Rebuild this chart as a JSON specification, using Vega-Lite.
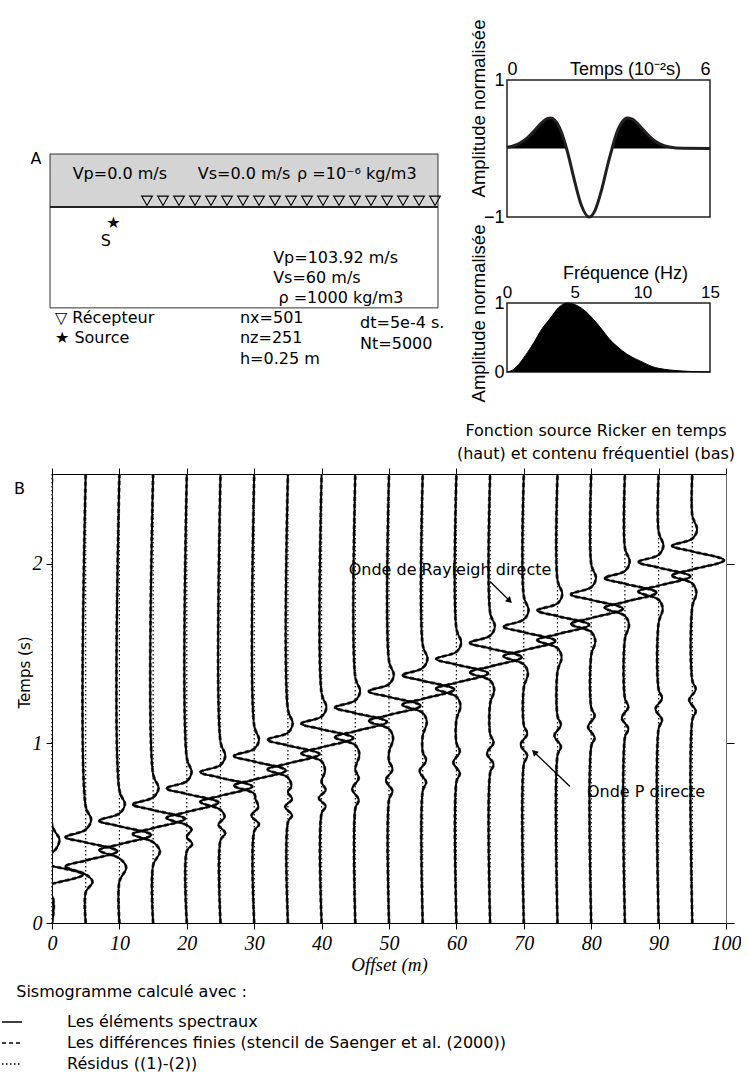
{
"$schema": "https://vega.github.io/schema/vega-lite/v6.json",
"background": "white",
"padding": {"left": 1, "top": 18, "right": 0, "bottom": 0},
"autosize": {"type": "pad"},
"spacing": 19,
"align": "none",
"bounds": "full",
"resolve": {"legend": {"strokeDash": "independent"}, "scale": {"strokeDash": "independent"}},
"datasets": {
"traces": [
{"o":0,"t":0,"x":0},{"o":0,"t":0.15,"x":0},{"o":0,"t":0.185,"x":-3},{"o":0,"t":0.218,"x":0},{"o":0,"t":0.27,"x":4.6},{"o":0,"t":0.318,"x":0},{"o":0,"t":0.35,"x":-3},{"o":0,"t":0.39,"x":0},{"o":0,"t":0.46,"x":1.1},{"o":0,"t":0.55,"x":0},{"o":0,"t":2.5,"x":0},
{"o":5,"t":0,"x":5},{"o":5,"t":0.17,"x":5},{"o":5,"t":0.23,"x":6.0},{"o":5,"t":0.27,"x":5},{"o":5,"t":0.315,"x":2.0},{"o":5,"t":0.348,"x":5},{"o":5,"t":0.40,"x":9.7},{"o":5,"t":0.449,"x":5},{"o":5,"t":0.478,"x":2.0},{"o":5,"t":0.52,"x":5},{"o":5,"t":0.575,"x":5.8},{"o":5,"t":0.65,"x":5},{"o":5,"t":2.5,"x":5},
{"o":10,"t":0,"x":10},{"o":10,"t":0.23,"x":10},{"o":10,"t":0.31,"x":11.0},{"o":10,"t":0.36,"x":10},{"o":10,"t":0.405,"x":7.0},{"o":10,"t":0.438,"x":10},{"o":10,"t":0.49,"x":14.7},{"o":10,"t":0.539,"x":10},{"o":10,"t":0.57,"x":7.0},{"o":10,"t":0.61,"x":10},{"o":10,"t":0.66,"x":10.8},{"o":10,"t":0.74,"x":10},{"o":10,"t":2.5,"x":10},
{"o":15,"t":0,"x":15},{"o":15,"t":0.32,"x":15},{"o":15,"t":0.40,"x":16.0},{"o":15,"t":0.45,"x":15},{"o":15,"t":0.495,"x":12.0},{"o":15,"t":0.528,"x":15},{"o":15,"t":0.58,"x":19.7},{"o":15,"t":0.629,"x":15},{"o":15,"t":0.66,"x":12.0},{"o":15,"t":0.70,"x":15},{"o":15,"t":0.75,"x":15.8},{"o":15,"t":0.83,"x":15},{"o":15,"t":2.5,"x":15},
{"o":20,"t":0,"x":20},{"o":20,"t":0.40,"x":20},{"o":20,"t":0.44,"x":20.8},{"o":20,"t":0.48,"x":20},{"o":20,"t":0.52,"x":20.7},{"o":20,"t":0.545,"x":20},{"o":20,"t":0.585,"x":17.0},{"o":20,"t":0.618,"x":20},{"o":20,"t":0.67,"x":24.7},{"o":20,"t":0.719,"x":20},{"o":20,"t":0.75,"x":17.0},{"o":20,"t":0.79,"x":20},{"o":20,"t":0.84,"x":20.7},{"o":20,"t":0.92,"x":20},{"o":20,"t":2.5,"x":20},
{"o":25,"t":0,"x":25},{"o":25,"t":0.46,"x":25},{"o":25,"t":0.50,"x":25.7},{"o":25,"t":0.548,"x":24.7},{"o":25,"t":0.59,"x":25.6},{"o":25,"t":0.63,"x":25},{"o":25,"t":0.675,"x":22.0},{"o":25,"t":0.708,"x":25},{"o":25,"t":0.76,"x":29.7},{"o":25,"t":0.809,"x":25},{"o":25,"t":0.84,"x":22.0},{"o":25,"t":0.88,"x":25},{"o":25,"t":0.93,"x":25.7},{"o":25,"t":1.01,"x":25},{"o":25,"t":2.5,"x":25},
{"o":30,"t":0,"x":30},{"o":30,"t":0.51,"x":30},{"o":30,"t":0.55,"x":30.7},{"o":30,"t":0.597,"x":29.6},{"o":30,"t":0.645,"x":30.6},{"o":30,"t":0.69,"x":30.2},{"o":30,"t":0.72,"x":30},{"o":30,"t":0.765,"x":27.0},{"o":30,"t":0.798,"x":30},{"o":30,"t":0.85,"x":34.7},{"o":30,"t":0.899,"x":30},{"o":30,"t":0.93,"x":27.0},{"o":30,"t":0.97,"x":30},{"o":30,"t":1.02,"x":30.7},{"o":30,"t":1.10,"x":30},{"o":30,"t":2.5,"x":30},
{"o":35,"t":0,"x":35},{"o":35,"t":0.56,"x":35},{"o":35,"t":0.60,"x":35.6},{"o":35,"t":0.647,"x":34.6},{"o":35,"t":0.69,"x":35.6},{"o":35,"t":0.73,"x":35},{"o":35,"t":0.76,"x":35.5},{"o":35,"t":0.81,"x":35},{"o":35,"t":0.855,"x":32.0},{"o":35,"t":0.888,"x":35},{"o":35,"t":0.94,"x":39.7},{"o":35,"t":0.989,"x":35},{"o":35,"t":1.02,"x":32.0},{"o":35,"t":1.06,"x":35},{"o":35,"t":1.11,"x":35.7},{"o":35,"t":1.19,"x":35},{"o":35,"t":2.5,"x":35},
{"o":40,"t":0,"x":40},{"o":40,"t":0.61,"x":40},{"o":40,"t":0.65,"x":40.6},{"o":40,"t":0.696,"x":39.6},{"o":40,"t":0.74,"x":40.6},{"o":40,"t":0.785,"x":40},{"o":40,"t":0.85,"x":40.5},{"o":40,"t":0.90,"x":40},{"o":40,"t":0.945,"x":37.0},{"o":40,"t":0.978,"x":40},{"o":40,"t":1.03,"x":44.7},{"o":40,"t":1.079,"x":40},{"o":40,"t":1.11,"x":37.0},{"o":40,"t":1.15,"x":40},{"o":40,"t":1.20,"x":40.7},{"o":40,"t":1.28,"x":40},{"o":40,"t":2.5,"x":40},
{"o":45,"t":0,"x":45},{"o":45,"t":0.636,"x":45},{"o":45,"t":0.686,"x":45.5},{"o":45,"t":0.746,"x":44.55},{"o":45,"t":0.806,"x":45.5},{"o":45,"t":0.856,"x":45},{"o":45,"t":0.94,"x":45.6},{"o":45,"t":0.99,"x":45},{"o":45,"t":1.035,"x":42.0},{"o":45,"t":1.068,"x":45},{"o":45,"t":1.12,"x":49.7},{"o":45,"t":1.169,"x":45},{"o":45,"t":1.20,"x":42.0},{"o":45,"t":1.24,"x":45},{"o":45,"t":1.29,"x":45.7},{"o":45,"t":1.37,"x":45},{"o":45,"t":2.5,"x":45},
{"o":50,"t":0,"x":50},{"o":50,"t":0.685,"x":50},{"o":50,"t":0.735,"x":50.5},{"o":50,"t":0.795,"x":49.55},{"o":50,"t":0.855,"x":50.5},{"o":50,"t":0.905,"x":50},{"o":50,"t":0.95,"x":50},{"o":50,"t":1.03,"x":50.6},{"o":50,"t":1.08,"x":50},{"o":50,"t":1.125,"x":47.0},{"o":50,"t":1.158,"x":50},{"o":50,"t":1.21,"x":54.7},{"o":50,"t":1.259,"x":50},{"o":50,"t":1.29,"x":47.0},{"o":50,"t":1.33,"x":50},{"o":50,"t":1.38,"x":50.7},{"o":50,"t":1.46,"x":50},{"o":50,"t":2.5,"x":50},
{"o":55,"t":0,"x":55},{"o":55,"t":0.735,"x":55},{"o":55,"t":0.785,"x":55.5},{"o":55,"t":0.845,"x":54.55},{"o":55,"t":0.905,"x":55.5},{"o":55,"t":0.955,"x":55},{"o":55,"t":1.04,"x":55},{"o":55,"t":1.12,"x":55.6},{"o":55,"t":1.17,"x":55},{"o":55,"t":1.215,"x":52.0},{"o":55,"t":1.248,"x":55},{"o":55,"t":1.30,"x":59.7},{"o":55,"t":1.349,"x":55},{"o":55,"t":1.38,"x":52.0},{"o":55,"t":1.42,"x":55},{"o":55,"t":1.47,"x":55.7},{"o":55,"t":1.55,"x":55},{"o":55,"t":2.5,"x":55},
{"o":60,"t":0,"x":60},{"o":60,"t":0.784,"x":60},{"o":60,"t":0.834,"x":60.5},{"o":60,"t":0.894,"x":59.55},{"o":60,"t":0.954,"x":60.5},{"o":60,"t":1.004,"x":60},{"o":60,"t":1.13,"x":60},{"o":60,"t":1.21,"x":60.6},{"o":60,"t":1.26,"x":60},{"o":60,"t":1.305,"x":57.0},{"o":60,"t":1.338,"x":60},{"o":60,"t":1.39,"x":64.7},{"o":60,"t":1.439,"x":60},{"o":60,"t":1.47,"x":57.0},{"o":60,"t":1.51,"x":60},{"o":60,"t":1.56,"x":60.7},{"o":60,"t":1.64,"x":60},{"o":60,"t":2.5,"x":60},
{"o":65,"t":0,"x":65},{"o":65,"t":0.834,"x":65},{"o":65,"t":0.884,"x":65.5},{"o":65,"t":0.944,"x":64.55},{"o":65,"t":1.004,"x":65.5},{"o":65,"t":1.054,"x":65},{"o":65,"t":1.22,"x":65},{"o":65,"t":1.30,"x":65.6},{"o":65,"t":1.35,"x":65},{"o":65,"t":1.395,"x":62.0},{"o":65,"t":1.428,"x":65},{"o":65,"t":1.48,"x":69.7},{"o":65,"t":1.529,"x":65},{"o":65,"t":1.56,"x":62.0},{"o":65,"t":1.60,"x":65},{"o":65,"t":1.65,"x":65.7},{"o":65,"t":1.73,"x":65},{"o":65,"t":2.5,"x":65},
{"o":70,"t":0,"x":70},{"o":70,"t":0.883,"x":70},{"o":70,"t":0.933,"x":70.5},{"o":70,"t":0.993,"x":69.55},{"o":70,"t":1.053,"x":70.5},{"o":70,"t":1.103,"x":70},{"o":70,"t":1.31,"x":70},{"o":70,"t":1.39,"x":70.6},{"o":70,"t":1.44,"x":70},{"o":70,"t":1.485,"x":67.0},{"o":70,"t":1.518,"x":70},{"o":70,"t":1.57,"x":74.7},{"o":70,"t":1.619,"x":70},{"o":70,"t":1.65,"x":67.0},{"o":70,"t":1.69,"x":70},{"o":70,"t":1.74,"x":70.7},{"o":70,"t":1.82,"x":70},{"o":70,"t":2.5,"x":70},
{"o":75,"t":0,"x":75},{"o":75,"t":0.933,"x":75},{"o":75,"t":0.983,"x":75.5},{"o":75,"t":1.043,"x":74.55},{"o":75,"t":1.103,"x":75.5},{"o":75,"t":1.153,"x":75},{"o":75,"t":1.40,"x":75},{"o":75,"t":1.48,"x":75.6},{"o":75,"t":1.53,"x":75},{"o":75,"t":1.575,"x":72.0},{"o":75,"t":1.608,"x":75},{"o":75,"t":1.66,"x":79.7},{"o":75,"t":1.709,"x":75},{"o":75,"t":1.74,"x":72.0},{"o":75,"t":1.78,"x":75},{"o":75,"t":1.83,"x":75.7},{"o":75,"t":1.91,"x":75},{"o":75,"t":2.5,"x":75},
{"o":80,"t":0,"x":80},{"o":80,"t":0.982,"x":80},{"o":80,"t":1.032,"x":80.5},{"o":80,"t":1.092,"x":79.55},{"o":80,"t":1.152,"x":80.5},{"o":80,"t":1.202,"x":80},{"o":80,"t":1.49,"x":80},{"o":80,"t":1.57,"x":80.6},{"o":80,"t":1.62,"x":80},{"o":80,"t":1.665,"x":77.0},{"o":80,"t":1.698,"x":80},{"o":80,"t":1.75,"x":84.7},{"o":80,"t":1.799,"x":80},{"o":80,"t":1.83,"x":77.0},{"o":80,"t":1.87,"x":80},{"o":80,"t":1.92,"x":80.7},{"o":80,"t":2.00,"x":80},{"o":80,"t":2.5,"x":80},
{"o":85,"t":0,"x":85},{"o":85,"t":1.032,"x":85},{"o":85,"t":1.082,"x":85.5},{"o":85,"t":1.142,"x":84.55},{"o":85,"t":1.202,"x":85.5},{"o":85,"t":1.252,"x":85},{"o":85,"t":1.58,"x":85},{"o":85,"t":1.66,"x":85.6},{"o":85,"t":1.71,"x":85},{"o":85,"t":1.755,"x":82.0},{"o":85,"t":1.788,"x":85},{"o":85,"t":1.84,"x":89.7},{"o":85,"t":1.889,"x":85},{"o":85,"t":1.92,"x":82.0},{"o":85,"t":1.96,"x":85},{"o":85,"t":2.01,"x":85.7},{"o":85,"t":2.09,"x":85},{"o":85,"t":2.5,"x":85},
{"o":90,"t":0,"x":90},{"o":90,"t":1.081,"x":90},{"o":90,"t":1.131,"x":90.5},{"o":90,"t":1.191,"x":89.55},{"o":90,"t":1.251,"x":90.5},{"o":90,"t":1.301,"x":90},{"o":90,"t":1.67,"x":90},{"o":90,"t":1.75,"x":90.6},{"o":90,"t":1.80,"x":90},{"o":90,"t":1.845,"x":87.0},{"o":90,"t":1.878,"x":90},{"o":90,"t":1.93,"x":94.7},{"o":90,"t":1.979,"x":90},{"o":90,"t":2.01,"x":87.0},{"o":90,"t":2.05,"x":90},{"o":90,"t":2.10,"x":90.7},{"o":90,"t":2.18,"x":90},{"o":90,"t":2.5,"x":90},
{"o":95,"t":0,"x":95},{"o":95,"t":1.131,"x":95},{"o":95,"t":1.181,"x":95.5},{"o":95,"t":1.241,"x":94.55},{"o":95,"t":1.301,"x":95.5},{"o":95,"t":1.351,"x":95},{"o":95,"t":1.76,"x":95},{"o":95,"t":1.84,"x":95.6},{"o":95,"t":1.89,"x":95},{"o":95,"t":1.935,"x":92.0},{"o":95,"t":1.968,"x":95},{"o":95,"t":2.02,"x":99.7},{"o":95,"t":2.069,"x":95},{"o":95,"t":2.10,"x":92.0},{"o":95,"t":2.14,"x":95},{"o":95,"t":2.19,"x":95.7},{"o":95,"t":2.27,"x":95},{"o":95,"t":2.5,"x":95}
]
},
"vconcat": [
{
"hconcat": [
{
"width": 386, "height": 286,
"view": {"stroke": null},
"layer": [
{"data": {"values": [{"x": 0, "x2": 125, "z": -17.07, "z2": 0}]},
 "mark": {"type": "rect", "fill": "#d4d4d4", "stroke": "#333", "strokeWidth": 1},
 "encoding": {
  "x": {"field": "x", "type": "quantitative", "scale": {"domain": [0.644, 125.0], "nice": false, "zero": false}, "axis": null},
  "x2": {"field": "x2"},
  "y": {"field": "z", "type": "quantitative", "scale": {"domain": [-40.91, 51.22], "nice": false, "zero": false, "reverse": true}, "axis": null},
  "y2": {"field": "z2"}}},
{"data": {"values": [{"x": 0, "x2": 125, "z": 0, "z2": 32.5}]},
 "mark": {"type": "rect", "fill": "white", "stroke": "#333", "strokeWidth": 1},
 "encoding": {
  "x": {"field": "x", "type": "quantitative", "scale": {"domain": [0.644, 125.0], "nice": false, "zero": false}, "axis": null},
  "x2": {"field": "x2"},
  "y": {"field": "z", "type": "quantitative", "scale": {"domain": [-40.91, 51.22], "nice": false, "zero": false, "reverse": true}, "axis": null},
  "y2": {"field": "z2"}}},
{"data": {"values": [{"x": 0, "x2": 125, "z": 0}]},
 "mark": {"type": "rule", "color": "#222", "strokeWidth": 2},
 "encoding": {
  "x": {"field": "x", "type": "quantitative", "scale": {"domain": [0.644, 125.0], "nice": false, "zero": false}, "axis": null},
  "x2": {"field": "x2"},
  "y": {"field": "z", "type": "quantitative", "scale": {"domain": [-40.91, 51.22], "nice": false, "zero": false, "reverse": true}, "axis": null}}},
{"data": {"values": [{"x":31.25,"z":-2.0},{"x":36.41,"z":-2.0},{"x":41.56,"z":-2.0},{"x":46.72,"z":-2.0},{"x":51.87,"z":-2.0},{"x":57.03,"z":-2.0},{"x":62.18,"z":-2.0},{"x":67.34,"z":-2.0},{"x":72.49,"z":-2.0},{"x":77.65,"z":-2.0},{"x":82.8,"z":-2.0},{"x":87.96,"z":-2.0},{"x":93.11,"z":-2.0},{"x":98.27,"z":-2.0},{"x":103.42,"z":-2.0},{"x":108.58,"z":-2.0},{"x":113.73,"z":-2.0},{"x":118.89,"z":-2.0},{"x":124.04,"z":-2.0}]},
 "mark": {"type": "point", "shape": "triangle-down", "filled": false, "color": "black", "strokeWidth": 1.1, "size": 115, "opacity": 1},
 "encoding": {
  "x": {"field": "x", "type": "quantitative", "scale": {"domain": [0.644, 125.0], "nice": false, "zero": false}, "axis": null},
  "y": {"field": "z", "type": "quantitative", "scale": {"domain": [-40.91, 51.22], "nice": false, "zero": false, "reverse": true}, "axis": null}}},
{"data": {"values": [{"x": 20.4, "z": 5.06, "label": "★"}]},
 "mark": {"type": "text", "font": "DejaVu Sans", "fontSize": 16, "align": "center", "baseline": "middle", "color": "black"},
 "encoding": {
  "x": {"field": "x", "type": "quantitative", "scale": {"domain": [0.644, 125.0], "nice": false, "zero": false}, "axis": null},
  "y": {"field": "z", "type": "quantitative", "scale": {"domain": [-40.91, 51.22], "nice": false, "zero": false, "reverse": true}, "axis": null},
  "text": {"field": "label"}}},
{"data": {"values": [{"x": -4.5, "z": -15.5, "label": "A"}, {"x": 18.0, "z": 10.95, "label": "S"}]},
 "mark": {"type": "text", "font": "DejaVu Sans", "fontSize": 16, "align": "center", "baseline": "middle", "color": "black"},
 "encoding": {
  "x": {"field": "x", "type": "quantitative", "scale": {"domain": [0.644, 125.0], "nice": false, "zero": false}, "axis": null},
  "y": {"field": "z", "type": "quantitative", "scale": {"domain": [-40.91, 51.22], "nice": false, "zero": false, "reverse": true}, "axis": null},
  "text": {"field": "label"}}},
{"data": {"values": [
  {"x": 7.3, "z": -10.5, "label": "Vp=0.0 m/s"},
  {"x": 47.6, "z": -10.5, "label": "Vs=0.0 m/s"},
  {"x": 79.6, "z": -10.5, "label": "ρ =10⁻⁶ kg/m3"},
  {"x": 71.9, "z": 16.3, "label": "Vp=103.92 m/s"},
  {"x": 71.9, "z": 22.8, "label": "Vs=60 m/s"},
  {"x": 73.6, "z": 29.2, "label": "ρ =1000 kg/m3"},
  {"x": 1.6, "z": 35.8, "label": "▽ Récepteur"},
  {"x": 1.6, "z": 42.2, "label": "★ Source"},
  {"x": 61.2, "z": 35.8, "label": "nx=501"},
  {"x": 61.2, "z": 42.2, "label": "nz=251"},
  {"x": 61.2, "z": 49.0, "label": "h=0.25 m"},
  {"x": 99.9, "z": 37.4, "label": "dt=5e-4 s."},
  {"x": 99.9, "z": 44.1, "label": "Nt=5000"}]},
 "mark": {"type": "text", "font": "DejaVu Sans", "fontSize": 16, "align": "left", "baseline": "middle", "color": "black"},
 "encoding": {
  "x": {"field": "x", "type": "quantitative", "scale": {"domain": [0.644, 125.0], "nice": false, "zero": false}, "axis": null},
  "y": {"field": "z", "type": "quantitative", "scale": {"domain": [-40.91, 51.22], "nice": false, "zero": false, "reverse": true}, "axis": null},
  "text": {"field": "label"}}}
]
},
{
"vconcat": [
{
"width": 203, "height": 137,
"view": {"stroke": "#222", "strokeWidth": 1.5},
"data": {"values": [
 {"t":0,"a":0.017},{"t":0.2,"a":0.04},{"t":0.4,"a":0.083},{"t":0.6,"a":0.155},{"t":0.8,"a":0.255},{"t":1.0,"a":0.364},{"t":1.2,"a":0.439},{"t":1.3,"a":0.445},{"t":1.4,"a":0.419},{"t":1.6,"a":0.249},{"t":1.76,"a":0},{"t":1.8,"a":-0.073},{"t":2.0,"a":-0.479},{"t":2.2,"a":-0.832},{"t":2.43,"a":-1},{"t":2.6,"a":-0.906},{"t":2.8,"a":-0.596},{"t":3.0,"a":-0.192},{"t":3.105,"a":0},{"t":3.2,"a":0.166},{"t":3.4,"a":0.385},{"t":3.55,"a":0.444},{"t":3.7,"a":0.43},{"t":3.9,"a":0.343},{"t":4.1,"a":0.233},{"t":4.3,"a":0.138},{"t":4.5,"a":0.072},{"t":4.8,"a":0.022},{"t":5.2,"a":0.003},{"t":6,"a":0}]},
"encoding": {
 "x": {"field": "t", "type": "quantitative", "scale": {"domain": [0, 6], "nice": false, "zero": false},
  "axis": {"orient": "top", "values": [0, 6], "format": "d", "labelFlush": true, "ticks": false, "domain": false, "labelPadding": 2, "labelFontSize": 18, "title": "Temps (10⁻²s)", "titleFontSize": 18, "titleX": 118, "titleY": -2, "titleBaseline": "bottom", "titleAlign": "center"}},
 "y": {"field": "a", "type": "quantitative", "scale": {"domain": [-1, 1], "nice": false},
  "axis": {"values": [-1, 0, 1], "format": "d", "ticks": false, "domain": false, "labelPadding": 3, "labelFontSize": 18, "title": "Amplitude normalisée", "titleFontSize": 18.5, "titleX": -28.7, "titleY": 28, "titleBaseline": "middle", "titleAlign": "center", "titleAngle": 270}}
},
"layer": [
 {"transform": [{"filter": "datum.a >= 0"}], "mark": {"type": "area", "color": "black", "interpolate": "monotone"}},
 {"mark": {"type": "line", "color": "#231f20", "strokeWidth": 3, "interpolate": "monotone"}}
]
},
{
"width": 203, "height": 69,
"view": {"stroke": "#222", "strokeWidth": 1.5},
"data": {"values": [
 {"f":0,"a":0},{"f":0.5,"a":0.04},{"f":0.86,"a":0.11},{"f":1.5,"a":0.28},{"f":2.0,"a":0.43},{"f":2.5,"a":0.6},{"f":3.2,"a":0.78},{"f":3.8,"a":0.93},{"f":4.43,"a":1.0},{"f":5.2,"a":0.96},{"f":5.8,"a":0.88},{"f":6.4,"a":0.76},{"f":7.0,"a":0.62},{"f":7.6,"a":0.47},{"f":8.2,"a":0.36},{"f":8.85,"a":0.26},{"f":9.5,"a":0.19},{"f":10.1,"a":0.135},{"f":10.7,"a":0.08},{"f":11.3,"a":0.05},{"f":12.0,"a":0.03},{"f":12.5,"a":0.02},{"f":13.5,"a":0.008},{"f":15,"a":0}]},
"encoding": {
 "x": {"field": "f", "type": "quantitative", "scale": {"domain": [0, 15], "nice": false, "zero": false},
  "axis": {"orient": "top", "values": [0, 5, 10, 15], "format": "d", "labelFlush": false, "ticks": false, "domain": false, "labelPadding": 2, "labelFontSize": 17, "title": "Fréquence (Hz)", "titleFontSize": 18, "titlePadding": 1, "titleX": 118, "titleAlign": "center"}},
 "y": {"field": "a", "type": "quantitative", "scale": {"domain": [0, 1], "nice": false},
  "axis": {"values": [0, 1], "format": "d", "ticks": false, "domain": false, "labelPadding": 3, "labelFontSize": 18, "title": "Amplitude normalisée", "titleFontSize": 18.5, "titleX": -28.7, "titleY": 10, "titleBaseline": "middle", "titleAlign": "center", "titleAngle": 270}}
},
"layer": [
 {"mark": {"type": "area", "color": "black", "interpolate": "monotone"}},
 {"mark": {"type": "line", "color": "black", "strokeWidth": 1, "interpolate": "monotone"}}
]
}
],
"spacing": -4,
"align": "each",
"bounds": "full"
}
],
"spacing": 23,
"align": "none",
"bounds": "full"
},
{
"width": 674, "height": 449,
"title": {"text": ["Fonction source Ricker en temps", "(haut) et contenu fréquentiel (bas)"], "anchor": "end", "frame": "group", "align": "center", "dx": -130, "offset": 6, "font": "DejaVu Sans", "fontSize": 16, "fontWeight": "normal", "lineHeight": 23, "color": "black"},
"resolve": {"axis": {"x": "independent", "y": "independent"}},
"layer": [
{"data": {"values": [{"o":0},{"o":5},{"o":10},{"o":15},{"o":20},{"o":25},{"o":30},{"o":35},{"o":40},{"o":45},{"o":50},{"o":55},{"o":60},{"o":65},{"o":70},{"o":75},{"o":80},{"o":85},{"o":90},{"o":95}]},
 "mark": {"type": "rule", "color": "black", "strokeWidth": 1.2},
 "encoding": {
  "x": {"field": "o", "type": "quantitative", "scale": {"domain": [0, 100], "nice": false, "zero": false},
   "axis": {"orient": "bottom", "values": [0,10,20,30,40,50,60,70,80,90,100], "format": "d", "tickSize": 6, "labelPadding": 4, "labelFlush": false, "labelFont": "Liberation Serif", "labelFontStyle": "italic", "labelFontSize": 20, "title": "Offset (m)", "titleFont": "Liberation Serif", "titleFontStyle": "italic", "titleFontSize": 19, "titlePadding": 2}},
  "strokeDash": {"datum": "Résidus ((1)-(2))", "type": "nominal",
   "scale": {"domain": ["Les éléments spectraux", "Les différences finies (stencil de Saenger et al. (2000))", "Résidus ((1)-(2))"], "range": [[1, 0], [4, 3], [1.5, 2.5]]},
   "legend": {"title": "\u200b\u00a0\u00a0\u00a0Sismogramme calculé avec :", "orient": "none", "legendX": -51, "legendY": 510, "symbolType": "stroke", "symbolSize": 400, "symbolStrokeWidth": 1.5, "symbolStrokeColor": "black", "labelFont": "DejaVu Sans", "labelFontSize": 16, "labelColor": "black", "labelOffset": 44, "labelLimit": 800, "titleFont": "DejaVu Sans", "titleFontSize": 16, "titleFontWeight": "normal", "titleColor": "black", "titlePadding": 11, "titleLimit": 800, "rowPadding": 2}}}},
{"data": {"name": "traces"},
 "mark": {"type": "line", "color": "#555", "strokeWidth": 3, "interpolate": "catmull-rom", "clip": true},
 "encoding": {
  "x": {"field": "x", "type": "quantitative", "scale": {"domain": [0, 100], "nice": false, "zero": false},
   "axis": {"orient": "top", "values": [0,10,20,30,40,50,60,70,80,90,100], "tickSize": 6, "labels": false, "title": null}},
  "y": {"field": "t", "type": "quantitative", "scale": {"domain": [0, 2.5], "nice": false, "zero": false},
   "axis": {"orient": "right", "values": [0, 1, 2], "tickSize": 8, "labels": false, "title": null, "domainColor": "#666"}},
  "detail": {"field": "o", "type": "nominal"},
  "order": {"field": "t", "type": "quantitative"},
  "strokeDash": {"datum": "Les différences finies (stencil de Saenger et al. (2000))", "type": "nominal",
   "scale": {"domain": ["Les éléments spectraux", "Les différences finies (stencil de Saenger et al. (2000))", "Résidus ((1)-(2))"], "range": [[1, 0], [4, 3], [1.5, 2.5]]},
   "legend": {"title": "\u200b\u00a0\u00a0\u00a0Sismogramme calculé avec :", "orient": "none", "legendX": -51, "legendY": 510, "symbolType": "stroke", "symbolSize": 400, "symbolStrokeWidth": 1.5, "symbolStrokeColor": "black", "labelFont": "DejaVu Sans", "labelFontSize": 16, "labelColor": "black", "labelOffset": 44, "labelLimit": 800, "titleFont": "DejaVu Sans", "titleFontSize": 16, "titleFontWeight": "normal", "titleColor": "black", "titlePadding": 11, "titleLimit": 800, "rowPadding": 2}}}},
{"data": {"name": "traces"},
 "mark": {"type": "line", "color": "black", "strokeWidth": 2, "interpolate": "catmull-rom", "clip": true},
 "encoding": {
  "x": {"field": "x", "type": "quantitative", "scale": {"domain": [0, 100], "nice": false, "zero": false}, "axis": null},
  "y": {"field": "t", "type": "quantitative", "scale": {"domain": [0, 2.5], "nice": false, "zero": false},
   "axis": {"orient": "left", "values": [0, 1, 2], "format": "d", "tickSize": 6, "labelPadding": 4, "labelFont": "Liberation Serif", "labelFontStyle": "italic", "labelFontSize": 20, "title": "Temps (s)", "titleFont": "DejaVu Sans", "titleFontSize": 15, "titleX": -28, "titleY": 198, "titleBaseline": "middle", "titleAlign": "center", "titleAngle": 270}},
  "detail": {"field": "o", "type": "nominal"},
  "order": {"field": "t", "type": "quantitative"},
  "strokeDash": {"datum": "Les éléments spectraux", "type": "nominal",
   "scale": {"domain": ["Les éléments spectraux", "Les différences finies (stencil de Saenger et al. (2000))", "Résidus ((1)-(2))"], "range": [[1, 0], [4, 3], [1.5, 2.5]]},
   "legend": {"title": "\u200b\u00a0\u00a0\u00a0Sismogramme calculé avec :", "orient": "none", "legendX": -51, "legendY": 510, "symbolType": "stroke", "symbolSize": 400, "symbolStrokeWidth": 1.5, "symbolStrokeColor": "black", "labelFont": "DejaVu Sans", "labelFontSize": 16, "labelColor": "black", "labelOffset": 44, "labelLimit": 800, "titleFont": "DejaVu Sans", "titleFontSize": 16, "titleFontWeight": "normal", "titleColor": "black", "titlePadding": 11, "titleLimit": 800, "rowPadding": 2}}}},
{"data": {"values": [{"x": 59.05, "t": 1.966, "label": "Onde de Rayleigh directe"}, {"x": 88.13, "t": 0.732, "label": "Onde P directe"}, {"x": -4.82, "t": 2.416, "label": "B"}]},
 "mark": {"type": "text", "font": "DejaVu Sans", "fontSize": 16, "align": "center", "baseline": "middle", "color": "black"},
 "encoding": {
  "x": {"field": "x", "type": "quantitative", "scale": {"domain": [0, 100], "nice": false, "zero": false}, "axis": null},
  "y": {"field": "t", "type": "quantitative", "scale": {"domain": [0, 2.5], "nice": false, "zero": false}, "axis": null},
  "text": {"field": "label"}}},
{"data": {"values": [{"x": 64.99, "t": 1.901, "x2": 67.9, "t2": 1.794}, {"x": 76.85, "t": 0.76, "x2": 71.55, "t2": 0.951}]},
 "mark": {"type": "rule", "color": "black", "strokeWidth": 1.3},
 "encoding": {
  "x": {"field": "x", "type": "quantitative", "scale": {"domain": [0, 100], "nice": false, "zero": false}, "axis": null},
  "y": {"field": "t", "type": "quantitative", "scale": {"domain": [0, 2.5], "nice": false, "zero": false}, "axis": null},
  "x2": {"field": "x2"},
  "y2": {"field": "t2"}}},
{"data": {"values": [{"x": 67.9, "t": 1.794}]},
 "mark": {"type": "point", "shape": "triangle-right", "filled": true, "color": "black", "size": 50, "angle": 43, "opacity": 1},
 "encoding": {
  "x": {"field": "x", "type": "quantitative", "scale": {"domain": [0, 100], "nice": false, "zero": false}, "axis": null},
  "y": {"field": "t", "type": "quantitative", "scale": {"domain": [0, 2.5], "nice": false, "zero": false}, "axis": null}}},
{"data": {"values": [{"x": 71.55, "t": 0.951}]},
 "mark": {"type": "point", "shape": "triangle-right", "filled": true, "color": "black", "size": 50, "angle": 224, "opacity": 1},
 "encoding": {
  "x": {"field": "x", "type": "quantitative", "scale": {"domain": [0, 100], "nice": false, "zero": false}, "axis": null},
  "y": {"field": "t", "type": "quantitative", "scale": {"domain": [0, 2.5], "nice": false, "zero": false}, "axis": null}}}
]
}
],
"config": {
 "view": {"stroke": null},
 "font": "DejaVu Sans",
 "axis": {"grid": false, "labelColor": "black", "titleColor": "black", "domainColor": "black", "tickColor": "black", "titleFontWeight": "normal", "labelFont": "Liberation Sans", "titleFont": "Liberation Sans"}
}
}
